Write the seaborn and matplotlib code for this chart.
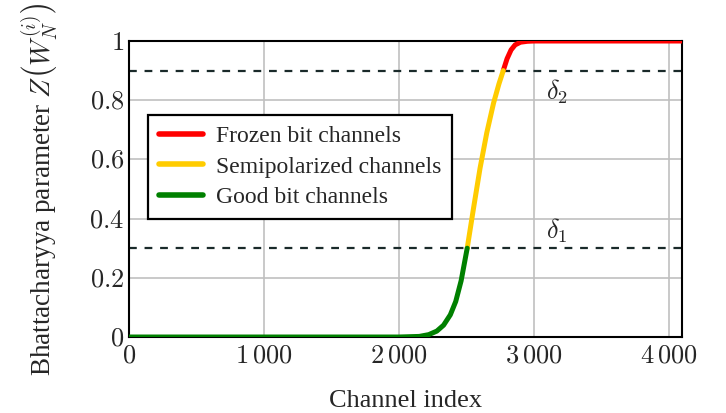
import pandas as pd
import matplotlib.pyplot as plt
import seaborn as sns

# sorted Bhattacharyya parameters
channel_index = [0, 1000, 2000, 2150, 2220, 2280, 2330, 2380, 2420, 2460, 2505,
                 2550, 2600, 2650, 2700, 2740, 2772, 2800, 2830, 2860, 2900,
                 2950, 3000, 3500, 4096]
z_value = [0.0, 0.0, 0.0, 0.002, 0.008, 0.02, 0.04, 0.075, 0.12, 0.19, 0.30,
           0.43, 0.57, 0.69, 0.79, 0.855, 0.90, 0.94, 0.97, 0.987, 0.996,
           0.999, 1.0, 1.0, 1.0]

delta1 = 0.3
delta2 = 0.9

series_names = ['Frozen bit channels', 'Semipolarized channels', 'Good bit channels']
series_colors = ['#ff0000', '#ffcc00', '#008000']

xticks = [0, 1000, 2000, 3000, 4000]
xtick_labels = [r'$0$', r'$1\,000$', r'$2\,000$', r'$3\,000$', r'$4\,000$']
yticks = [0, 0.2, 0.4, 0.6, 0.8, 1]
ytick_labels = [r'$0$', r'$0.2$', r'$0.4$', r'$0.6$', r'$0.8$', r'$1$']

# split the curve in three parts using the thresholds (boundary points shared)
rows = []
for x, z in zip(channel_index, z_value):
    if z <= delta1:
        rows.append((x, z, 'Good bit channels'))
    if delta1 <= z <= delta2:
        rows.append((x, z, 'Semipolarized channels'))
    if z >= delta2:
        rows.append((x, z, 'Frozen bit channels'))
df = pd.DataFrame(rows, columns=['idx', 'z', 'kind'])

sns.set_style('white')
plt.rcParams['font.family'] = ['Liberation Serif', 'DejaVu Serif']
plt.rcParams['mathtext.fontset'] = 'cm'

fig = plt.figure(figsize=(7.26, 4.13), dpi=100)
ax = fig.add_axes([0.1777, 0.184, 0.7617, 0.7167])

ax.grid(True, color='#c0c0c0', linewidth=1.2)
ax.set_axisbelow(True)

ax.axhline(delta1, color='#1a2a2a', linestyle=(0, (3.5, 3.5)), linewidth=1.6, zorder=2)
ax.axhline(delta2, color='#1a2a2a', linestyle=(0, (3.5, 3.5)), linewidth=1.6, zorder=2)

sns.lineplot(data=df, x='idx', y='z', hue='kind', hue_order=series_names,
             palette=series_colors, linewidth=3.6, ax=ax, zorder=3)

ax.text(3090, 0.83, r'$\delta_2$', fontsize=19, ha='left', va='center')
ax.text(3090, 0.36, r'$\delta_1$', fontsize=19, ha='left', va='center')

ax.set_xlim(0, 4096)
ax.set_ylim(0, 1)
ax.set_xticks(xticks)
ax.set_xticklabels(xtick_labels, fontsize=19)
ax.set_yticks(yticks)
ax.set_yticklabels(ytick_labels, fontsize=19)
ax.tick_params(axis='x', pad=6)
ax.tick_params(direction='in', length=4, color='#808080', width=1)

ax.set_xlabel('Channel index', fontsize=19, labelpad=16)
ax.set_ylabel(r'Bhattacharyya parameter $Z\left(W_N^{(i)}\right)$', fontsize=19.5, labelpad=20)

for s in ax.spines.values():
    s.set_color('black')
    s.set_linewidth(1.5)

leg = ax.legend(loc='upper left', bbox_to_anchor=(0.013, 0.79), fontsize=17,
                frameon=True, fancybox=False, edgecolor='black', framealpha=1,
                handlelength=1.9, borderpad=0.45, labelspacing=0.38, handletextpad=0.55)
leg.get_frame().set_linewidth(1.6)
for line in leg.get_lines():
    line.set_linewidth(4)

fig.savefig('out.png', dpi=100)
